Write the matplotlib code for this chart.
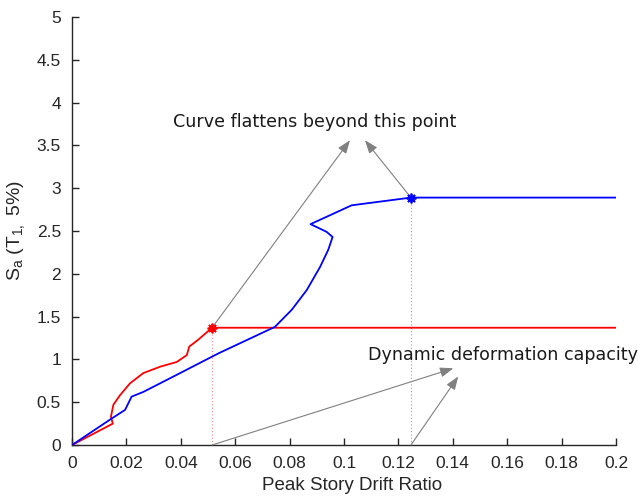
import matplotlib
matplotlib.use("Agg")
import matplotlib.pyplot as plt

# Red curve (IDA)
red_x = [0.0, 0.0150, 0.0143, 0.0152, 0.0176, 0.0213, 0.0262, 0.0324, 0.0385, 0.0422, 0.0431, 0.0464, 0.0515, 0.2]
red_y = [0.0, 0.25, 0.33, 0.47, 0.58, 0.72, 0.84, 0.915, 0.97, 1.05, 1.15, 1.23, 1.37, 1.37]
# Blue curve (IDA)
blue_x = [0.0, 0.0146, 0.0195, 0.0219, 0.0262, 0.0385, 0.0538, 0.0746, 0.0808, 0.0863, 0.0912,
          0.0942, 0.0958, 0.0936, 0.0877, 0.1028, 0.1246, 0.2]
blue_y = [0.0, 0.31, 0.41, 0.565, 0.62, 0.82, 1.07, 1.38, 1.58, 1.81, 2.08,
          2.28, 2.43, 2.49, 2.58, 2.80, 2.89, 2.89]

red_cap = (0.0515, 1.37)
blue_cap = (0.1246, 2.89)

xticks = [0, 0.02, 0.04, 0.06, 0.08, 0.1, 0.12, 0.14, 0.16, 0.18, 0.2]
xticklabels = ["0", "0.02", "0.04", "0.06", "0.08", "0.1", "0.12", "0.14", "0.16", "0.18", "0.2"]
yticks = [0, 0.5, 1, 1.5, 2, 2.5, 3, 3.5, 4, 4.5, 5]
yticklabels = ["0", "0.5", "1", "1.5", "2", "2.5", "3", "3.5", "4", "4.5", "5"]

title1 = "Curve flattens beyond this point"
title2 = "Dynamic deformation capacity"

plt.rcParams['font.family'] = ['Liberation Sans', 'DejaVu Sans']
fig = plt.figure(figsize=(6.38, 4.99), dpi=100)
ax = fig.add_axes([0.1129, 0.1082, 0.9655 - 0.1129, 0.966 - 0.1082])

ax.plot(red_x, red_y, color='#ff0000', lw=1.3, zorder=3)
ax.plot(blue_x, blue_y, color='#0000ff', lw=1.3, zorder=3)
ax.plot([red_cap[0]], [red_cap[1]], marker=(8, 2, 0), color='#ff0000', ms=7, mew=1.3, zorder=4)
ax.plot([blue_cap[0]], [blue_cap[1]], marker=(8, 2, 0), color='#0000ff', ms=7, mew=1.3, zorder=4)
ax.plot([red_cap[0], red_cap[0]], [0, red_cap[1]], color='#ff9090', lw=0.8, ls=(0, (1, 2)), zorder=2)
ax.plot([blue_cap[0], blue_cap[0]], [0, blue_cap[1]], color='#9090ff', lw=0.8, ls=(0, (1, 2)), zorder=2)

arrow_kw = dict(arrowstyle='-|>,head_length=0.8,head_width=0.3', color='#808080', lw=0.8, shrinkA=0, shrinkB=0)
ax.annotate('', xy=(0.1022, 3.56), xytext=red_cap, arrowprops=arrow_kw)
ax.annotate('', xy=(0.1077, 3.56), xytext=blue_cap, arrowprops=arrow_kw)
ax.annotate('', xy=(0.1402, 0.896), xytext=(red_cap[0], 0), arrowprops=arrow_kw)
ax.annotate('', xy=(0.1420, 0.80), xytext=(blue_cap[0], 0), arrowprops=arrow_kw)

ax.text(0.0893, 3.77, title1, family='DejaVu Sans', fontsize=12.6, ha='center', va='center', color='#1a1a1a')
ax.text(0.1088, 1.05, title2, family='DejaVu Sans', fontsize=12.6, ha='left', va='center', color='#1a1a1a', clip_on=False)

ax.set_xlim(0, 0.2)
ax.set_ylim(0, 5)
ax.set_xticks(xticks)
ax.set_xticklabels(xticklabels)
ax.set_yticks(yticks)
ax.set_yticklabels(yticklabels)
for s in ['top', 'right']:
    ax.spines[s].set_visible(False)
for s in ['left', 'bottom']:
    ax.spines[s].set_color('#262626')
    ax.spines[s].set_linewidth(1.0)
ax.tick_params(direction='in', length=5, width=1.0, colors='#262626', labelsize=12.5, pad=8)
ax.set_xlabel('Peak Story Drift Ratio', fontsize=13.5, color='#262626', labelpad=5)
ax.xaxis.set_label_coords(0.515, -0.075)
ax.set_ylabel(r'S$_\mathregular{a}$ (T$_\mathregular{1,}$ 5%)', fontsize=14, color='#262626', labelpad=6)

fig.savefig('out.png', dpi=100)
